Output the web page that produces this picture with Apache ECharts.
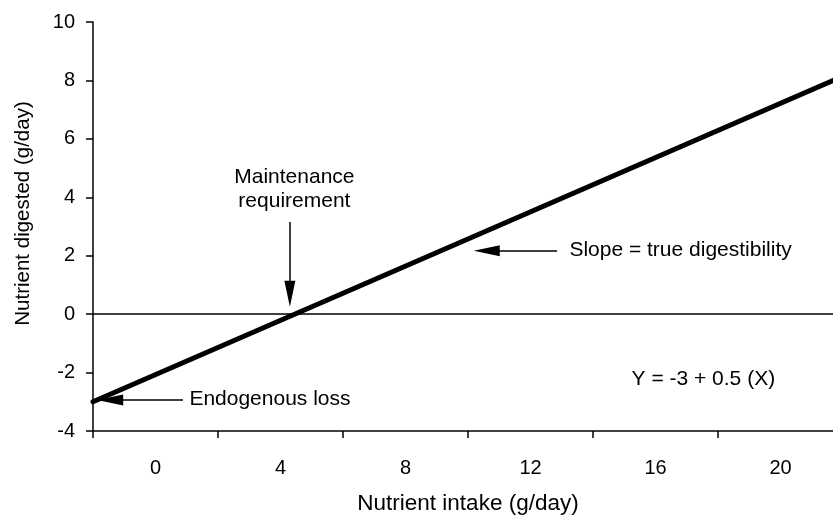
<!DOCTYPE html>
<html>
<head>
<meta charset="utf-8">
<script src="https://cdn.jsdelivr.net/npm/echarts@6/dist/echarts.min.js"></script>
<style>html,body{margin:0;padding:0;background:#fff}#c{width:833px;height:520px}</style>
</head>
<body>
<div id="c"></div>
<script>
// Data
const lineX = [-2, 21.68];
const lineY = [-3, 8];
const xTickValues = [-2, 2, 6, 10, 14, 18];
const xLabelValues = [0, 4, 8, 12, 16, 20];
const yMin = -4, yMax = 10, yStep = 2;
const xMin = -2, xMax = 21.68;
const zeroLineY = 0;
// annotation arrows: [fromX, fromY, toX, toY]
const arrowMaint = [4.3, 3.15, 4.3, 0.7];
const arrowSlope = [12.85, 2.17, 10.6, 2.17];
const arrowEndo = [0.88, -2.94, -1.45, -2.94];
// annotation texts: [x, y, text]
const textMaint = [4.46, 4.27, 'Maintenance\nrequirement'];
const textSlope = [13.26, 2.17, 'Slope = true digestibility'];
const textEndo = [1.1, -2.94, 'Endogenous loss'];
const textEq = [15.25, -2.26, 'Y = -3 + 0.5 (X)'];

const FONT = '"Liberation Sans", Arial, sans-serif';

function arrowLine(a) {
  return [{coord: [a[0], a[1]]}, {coord: [a[2], a[3]]}];
}
function textItem(t, align) {
  return {
    value: [t[0], t[1]],
    label: {
      show: true, formatter: t[2], align: align, verticalAlign: 'middle', position: [0, 0],
      color: '#000', opacity: 1, textBorderWidth: 0, textBorderColor: 'transparent',
      fontSize: 21, fontFamily: FONT, lineHeight: 24
    }
  };
}

const chart = echarts.init(document.getElementById('c'), null, {renderer: 'canvas'});
chart.setOption({
  animation: false,
  backgroundColor: '#fff',
  textStyle: {fontFamily: FONT},
  grid: {left: 93, right: 0, top: 22, bottom: 87, containLabel: false},
  xAxis: {
    type: 'value', min: xMin, max: xMax,
    name: 'Nutrient intake (g/day)', nameLocation: 'middle', nameGap: 61,
    nameTextStyle: {color: '#000', fontSize: 22.5, fontFamily: FONT, padding: [0, 0, 0, 10]},
    axisLine: {show: true, onZero: false, lineStyle: {color: '#000', width: 1.5}},
    axisTick: {show: true, customValues: xTickValues, length: 7, lineStyle: {color: '#000', width: 1.5}},
    axisLabel: {customValues: xLabelValues, color: '#000', fontSize: 20, fontFamily: FONT, margin: 27},
    splitLine: {show: false}
  },
  yAxis: {
    type: 'value', min: yMin, max: yMax, interval: yStep,
    name: 'Nutrient digested (g/day)', nameLocation: 'middle', nameGap: 59,
    nameTextStyle: {color: '#000', fontSize: 20.5, fontFamily: FONT, padding: [0, 0, 0, 26]},
    axisLine: {show: true, onZero: false, lineStyle: {color: '#000', width: 1.5}},
    axisTick: {show: true, length: 7, lineStyle: {color: '#000', width: 1.5}},
    axisLabel: {color: '#000', fontSize: 20, fontFamily: FONT, margin: 18},
    splitLine: {show: false}
  },
  series: [
    {
      type: 'line',
      data: lineX.map((x, i) => [x, lineY[i]]),
      symbol: 'none',
      lineStyle: {color: '#000', width: 5, cap: 'round'},
      z: 5,
      markLine: {
        silent: true,
        symbol: ['none', 'none'],
        label: {show: false},
        lineStyle: {color: '#000', width: 1.5, type: 'solid'},
        data: [{yAxis: zeroLineY}]
      }
    },
    {
      type: 'line',
      data: [],
      markLine: {
        silent: true,
        symbol: ['none', 'triangle'],
        symbolSize: [11, 26],
        label: {show: false},
        lineStyle: {color: '#000', width: 1.5, type: 'solid'},
        itemStyle: {color: '#000'},
        data: [arrowLine(arrowMaint), arrowLine(arrowSlope), arrowLine(arrowEndo)]
      }
    },
    {
      type: 'scatter',
      symbolSize: 1,
      itemStyle: {color: 'rgba(255,255,255,0)'},
      emphasis: {disabled: true},
      silent: true,
      z: 10,
      label: {show: true, color: '#000'},
      data: [textItem(textMaint, 'center'), textItem(textSlope, 'left'), textItem(textEndo, 'left'), textItem(textEq, 'left')]
    }
  ]
});
</script>
</body>
</html>
